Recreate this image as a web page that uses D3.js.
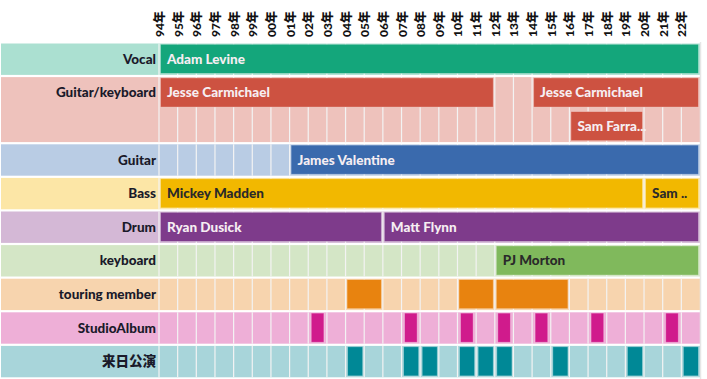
<!DOCTYPE html>
<html>
<head>
<meta charset="utf-8">
<script src="https://cdn.jsdelivr.net/npm/d3@7"></script>
<style>
  body { margin: 0; background: #fff; }
  svg { display: block; }
</style>
</head>
<body>
<svg id="chart" width="707" height="379"></svg>
<script>
// years on the top axis
const years = ["94","95","96","97","98","99","00","01","02","03","04","05","06","07","08","09","10","11","12","13","14","15","16","17","18","19","20","21","22"];

// rows (Guitar/keyboard has two lanes)
const roles = ["Vocal", "Guitar/keyboard", "Guitar", "Bass", "Drum", "keyboard", "touring member", "StudioAlbum", "来日公演"];
const lanes = [1, 2, 1, 1, 1, 1, 1, 1, 1];
const lightColors = ["#abe0d1", "#eec2bc", "#b9cce4", "#fce6a6", "#d4b8d6", "#d4e6c6", "#f7d4ae", "#eeafd7", "#a8d5da"];
const darkColors  = ["#14a67b", "#cd5241", "#3a6aad", "#f2b800", "#7e3b8b", "#80b95c", "#e8830f", "#d01b8c", "#008896"];
const darkText    = [false, false, false, true, false, true, false, false, false];

// members: role index, lane, label, first year, last year
const memberRole  = [0, 1, 1, 1, 2, 3, 3, 4, 4, 5];
const memberLane  = [0, 0, 0, 1, 0, 0, 0, 0, 0, 0];
const memberName  = ["Adam Levine", "Jesse Carmichael", "Jesse Carmichael", "Sam Farra...", "James Valentine", "Mickey Madden", "Sam ..", "Ryan Dusick", "Matt Flynn", "PJ Morton"];
const memberStart = ["94", "94", "14", "16", "01", "94", "20", "94", "06", "12"];
const memberEnd   = ["22", "11", "22", "19", "22", "19", "22", "05", "22", "22"];

// touring member periods
const tourStart = ["04", "10", "12"];
const tourEnd   = ["05", "11", "15"];

// studio albums and Japan shows
const studioYears = ["02", "07", "10", "12", "14", "17", "21"];
const japanYears  = ["04", "07", "08", "10", "11", "12", "15", "19", "22"];

const svg = d3.select("#chart");
const fontFam = "Lato, 'Noto Sans CJK JP', sans-serif";

const x = d3.scaleBand().domain(years).range([159, 700]).paddingInner(0);
const bw = x.bandwidth();

// lane scale
const laneStartIdx = [];
let acc = 0;
lanes.forEach(n => { laneStartIdx.push(acc); acc += n; });
const y = d3.scaleLinear().domain([0, acc]).range([42.5, 378.5]);
const laneH = y(1) - y(0);

// row backgrounds
const rowG = svg.append("g");
roles.forEach((r, i) => {
  const top = y(laneStartIdx[i]);
  const bottom = y(laneStartIdx[i] + lanes[i]);
  rowG.append("rect")
    .attr("x", 1).attr("y", top + 1)
    .attr("width", 699).attr("height", bottom - top - 2.2)
    .attr("fill", lightColors[i]);
  // column separators
  rowG.selectAll(null)
    .data(years)
    .enter()
    .append("line")
    .attr("x1", d => x(d)).attr("x2", d => x(d))
    .attr("y1", top + 1).attr("y2", bottom - 1.2)
    .attr("stroke", "#f3f3f3").attr("stroke-width", 1.2);
  rowG.append("text")
    .attr("x", 156)
    .attr("y", top + laneH / 2 - 0.5)
    .attr("text-anchor", "end")
    .attr("dominant-baseline", "central")
    .attr("font-family", fontFam)
    .attr("font-weight", 900)
    .attr("font-size", 13.5)
    .attr("fill", "#1a1a2a")
    .text(r);
});
// right border line
svg.append("line")
  .attr("x1", 700.5).attr("x2", 700.5).attr("y1", 42).attr("y2", 379)
  .attr("stroke", "#e6e6e6").attr("stroke-width", 1.5);

// top axis labels
svg.append("g").selectAll("text")
  .data(years)
  .enter()
  .append("text")
  .attr("transform", d => "translate(" + (x(d) + 0.5) + ",37) rotate(-90)")
  .attr("dominant-baseline", "central")
  .attr("font-family", fontFam)
  .attr("font-weight", 900)
  .attr("font-size", 12)
  .attr("fill", "#111")
  .text(d => d + "年");

// helper for bars
function bar(g, role, lane, s, e, color) {
  const top = y(laneStartIdx[role] + lane);
  return g.append("rect")
    .attr("x", x(s) + 1.5)
    .attr("y", top + 1.8)
    .attr("width", x(e) + bw - x(s) - 3)
    .attr("height", laneH - 4.4)
    .attr("fill", color)
    .attr("stroke", "#fff").attr("stroke-opacity", 0.3).attr("stroke-width", 1);
}

// members
const memG = svg.append("g");
memberName.forEach((name, i) => {
  const r = memberRole[i];
  bar(memG, r, memberLane[i], memberStart[i], memberEnd[i], darkColors[r]);
  memG.append("text")
    .attr("x", x(memberStart[i]) + 8)
    .attr("y", y(laneStartIdx[r] + memberLane[i]) + laneH / 2 - 0.5)
    .attr("dominant-baseline", "central")
    .attr("font-family", fontFam)
    .attr("font-weight", 900)
    .attr("font-size", 13.5)
    .attr("fill", darkText[r] ? "#2a2a2a" : "#f6eef2")
    .text(name);
});

// touring
tourStart.forEach((s, i) => bar(memG, 6, 0, s, tourEnd[i], darkColors[6]));
// studio albums
studioYears.forEach(s => bar(memG, 7, 0, s, s, darkColors[7]).attr("x", x(s) + 3).attr("width", bw - 6));
// Japan shows
japanYears.forEach(s => bar(memG, 8, 0, s, s, darkColors[8]).attr("x", x(s) + 2).attr("width", bw - 3.5));
</script>
</body>
</html>
